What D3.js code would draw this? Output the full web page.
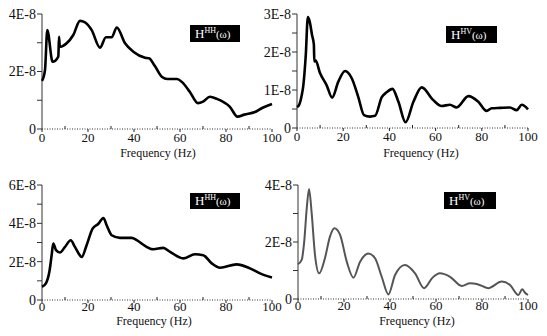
<!DOCTYPE html>
<html>
<head>
<meta charset="utf-8">
<script src="https://cdn.jsdelivr.net/npm/d3@7"></script>
<style>
    body { margin: 0; background: #fff; }
    svg { display: block; }
    svg text { font-family: 'Liberation Serif', 'DejaVu Serif', 'Times New Roman', serif; }
</style>
</head>
<body>
<script>

// values are in units of 1E-8
const hhFreq = [0, 1.3, 2.3, 4.6, 7.1, 7.4, 7.7, 8.1, 10.7, 13.6, 16.5, 18.7, 21.6, 25.2, 27.8, 30.3, 32.5, 36.1, 39.7, 44.8, 46.5, 49, 52.2, 54.5, 58.7, 60.9, 64.3, 67.8, 70, 73, 76, 81.7, 85, 88, 92.6, 95.7, 100]
const hhVals = [1.67, 2.05, 3.44, 2.34, 2.52, 3.21, 2.9, 2.86, 2.98, 3.27, 3.76, 3.71, 3.44, 2.83, 3.19, 3.19, 3.53, 2.98, 2.69, 2.48, 2.46, 2.2, 1.81, 1.74, 1.74, 1.63, 1.29, 0.9, 0.95, 1.12, 1.05, 0.77, 0.43, 0.5, 0.59, 0.73, 0.87]

const hvFreq = [0, 1, 2, 2.7, 3.8, 4.7, 5.5, 6.5, 7.3, 7.5, 8, 10, 12.8, 15.2, 17.9, 20.8, 23.7, 26.5, 29, 31.6, 33.8, 36.7, 38.8, 41.3, 43.9, 47, 50.4, 54, 58.9, 62.6, 66.2, 69.1, 74.2, 78.5, 82.1, 84.3, 88, 92.2, 95.1, 97.3, 100]
const hvVals = [0.55, 0.62, 0.85, 1.1, 1.92, 2.92, 2.8, 2.45, 2.2, 1.75, 1.78, 1.44, 1.13, 0.8, 1.22, 1.5, 1.31, 0.82, 0.34, 0.3, 0.32, 0.81, 0.94, 1.03, 0.69, 0.15, 0.69, 1.07, 0.74, 0.58, 0.61, 0.54, 0.84, 0.69, 0.45, 0.52, 0.53, 0.54, 0.47, 0.61, 0.49]

const hhFreq2 = [0, 1.7, 3.2, 4.2, 4.9, 6.1, 7.8, 10, 12.5, 14.3, 17.3, 19.4, 22, 24.5, 26.7, 28.1, 30.3, 33.9, 39, 41.2, 44.8, 48.4, 52.7, 55.7, 61.4, 66.5, 70.1, 73.8, 77.4, 84.6, 90.4, 94.8, 100]
const hhVals2 = [0.69, 0.87, 1.47, 2.34, 2.95, 2.6, 2.48, 2.77, 3.12, 2.77, 2.25, 2.86, 3.72, 3.98, 4.28, 3.9, 3.38, 3.24, 3.24, 3.12, 2.82, 2.65, 2.72, 2.51, 2.17, 2.39, 2.34, 1.91, 1.68, 1.86, 1.65, 1.39, 1.17]

const hvFreq2 = [0, 1.6, 2.7, 3.8, 4.8, 5.9, 7.4, 9.2, 11.7, 13.9, 15.8, 18.3, 21.2, 24.1, 27, 30.6, 33.5, 36.4, 39.3, 42.2, 46.5, 50.9, 54.8, 58.5, 61.7, 66.1, 71.2, 74.8, 77.7, 82.7, 88.6, 92.2, 95.8, 97.5, 98.7, 100]
const hvVals2 = [1.22, 1.37, 2.01, 3.18, 3.86, 3.06, 1.54, 0.9, 1.43, 2.19, 2.48, 2.25, 1.31, 0.75, 1.31, 1.6, 1.43, 0.78, 0.16, 0.84, 1.19, 0.9, 0.38, 0.75, 0.9, 0.78, 0.46, 0.55, 0.53, 0.38, 0.61, 0.49, 0.14, 0.34, 0.22, 0.14]

const xTicks = [0, 20, 40, 60, 80, 100]
const xMinorTicks = [10, 30, 50, 70, 90]
const yTicks1 = [0, 2, 4]
const yTicks2 = [0, 1, 2, 3]
const yTicks3 = [0, 2, 4, 6]
const yTicks4 = [0, 2, 4]
const yMinor1 = [1, 3]
const yMinor2 = [0.5, 1.5, 2.5]
const yMinor3 = [1, 3, 5]
const yMinor4 = [1, 3]
const legendSups = ['HH', 'HV', 'HH', 'HV']
const xTitle = 'Frequency (Hz)'

window.onload = function(){
    const svg = d3.select('body').append('svg')
        .attr('width', 547)
        .attr('height', 336)

    const panels = [
        {freq: hhFreq, vals: hhVals, yTicks: yTicks1, yMinor: yMinor1, sup: legendSups[0],
            x0: 42, x1: 272, y0: 129, y1: 14, labelDy: 13, titleX: 158, titleY: 157, box: [190, 25, 50, 17], colour: '#000', width: 2.6},
        {freq: hvFreq, vals: hvVals, yTicks: yTicks2, yMinor: yMinor2, sup: legendSups[1],
            x0: 297, x1: 528, y0: 128, y1: 14, labelDy: 13, titleX: 421, titleY: 157, box: [446, 26, 51, 17], colour: '#000', width: 2.6},
        {freq: hhFreq2, vals: hhVals2, yTicks: yTicks3, yMinor: yMinor3, sup: legendSups[2],
            x0: 42, x1: 272, y0: 300, y1: 185, labelDy: 11, titleX: 154, titleY: 325, box: [190, 193, 50, 16], colour: '#000', width: 2.6},
        {freq: hvFreq2, vals: hvVals2, yTicks: yTicks4, yMinor: yMinor4, sup: legendSups[3],
            x0: 298, x1: 528, y0: 299, y1: 185, labelDy: 11, titleX: 417, titleY: 325, box: [444, 192, 52, 17], colour: '#555', width: 2}
    ]

    panels.forEach(p => drawPanel(svg, p))
}

function drawPanel(svg, p){
    const yMax = p.yTicks[p.yTicks.length - 1]
    const x = d3.scaleLinear().domain([0, 100]).range([p.x0, p.x1])
    const y = d3.scaleLinear().domain([0, yMax]).range([p.y0, p.y1])
    const g = svg.append('g')

    // x axis: dotted baseline, major ticks down, minor ticks up
    g.append('line')
        .attr('x1', p.x0).attr('x2', p.x1)
        .attr('y1', p.y0).attr('y2', p.y0)
        .attr('stroke', '#333').attr('stroke-width', 1)
        .attr('stroke-dasharray', '1,1.5')

    g.selectAll('line.xmaj').data(xTicks).join('line')
        .attr('class', 'xmaj')
        .attr('x1', d => x(d)).attr('x2', d => x(d))
        .attr('y1', p.y0).attr('y2', p.y0 + 3)
        .attr('stroke', '#222')

    g.selectAll('line.xmin').data(xMinorTicks).join('line')
        .attr('class', 'xmin')
        .attr('x1', d => x(d)).attr('x2', d => x(d))
        .attr('y1', p.y0).attr('y2', p.y0 - 3)
        .attr('stroke', '#222')

    g.selectAll('text.xlab').data(xTicks).join('text')
        .attr('class', 'xlab')
        .attr('x', d => x(d)).attr('y', p.y0 + p.labelDy)
        .attr('text-anchor', 'middle')
        .attr('font-size', 13)
        .attr('fill', '#111')
        .text(d => d)

    g.append('text')
        .attr('x', p.titleX).attr('y', p.titleY)
        .attr('text-anchor', 'middle')
        .attr('font-size', 12)
        .attr('fill', '#111')
        .text(xTitle)

    // y axis
    g.append('line')
        .attr('x1', p.x0).attr('x2', p.x0)
        .attr('y1', p.y0).attr('y2', p.y1)
        .attr('stroke', '#333').attr('stroke-width', 1)

    g.selectAll('line.ytick').data(p.yTicks.concat(p.yMinor)).join('line')
        .attr('class', 'ytick')
        .attr('x1', p.x0 - 5).attr('x2', p.x0)
        .attr('y1', d => y(d)).attr('y2', d => y(d))
        .attr('stroke', '#333')

    g.selectAll('text.ylab').data(p.yTicks).join('text')
        .attr('class', 'ylab')
        .attr('x', p.x0 - 6).attr('y', d => y(d))
        .attr('dy', '0.35em')
        .attr('text-anchor', 'end')
        .attr('font-size', 14)
        .attr('fill', '#111')
        .text(d => d === 0 ? '0' : d + 'E-8')

    // curve
    const points = p.freq.map((f, i) => [f, p.vals[i]])
    const line = d3.line()
        .x(d => x(d[0]))
        .y(d => y(d[1]))
        .curve(d3.curveMonotoneX)

    g.append('path')
        .datum(points)
        .attr('d', line)
        .attr('fill', 'none')
        .attr('stroke', p.colour)
        .attr('stroke-width', p.width)
        .attr('stroke-linejoin', 'round')

    // legend box
    const [bx, by, bw, bh] = p.box
    g.append('rect')
        .attr('x', bx).attr('y', by)
        .attr('width', bw).attr('height', bh)
        .attr('fill', '#000')

    const label = g.append('text')
        .attr('x', bx + 5).attr('y', by + bh - 4)
        .attr('fill', '#fff')
        .attr('font-size', 13)
    label.append('tspan').text('H')
    label.append('tspan').attr('dy', -5).attr('font-size', 8).text(p.sup)
    label.append('tspan').attr('dy', 5).attr('font-size', 11).text('(ω)')
}
</script>
</body>
</html>
